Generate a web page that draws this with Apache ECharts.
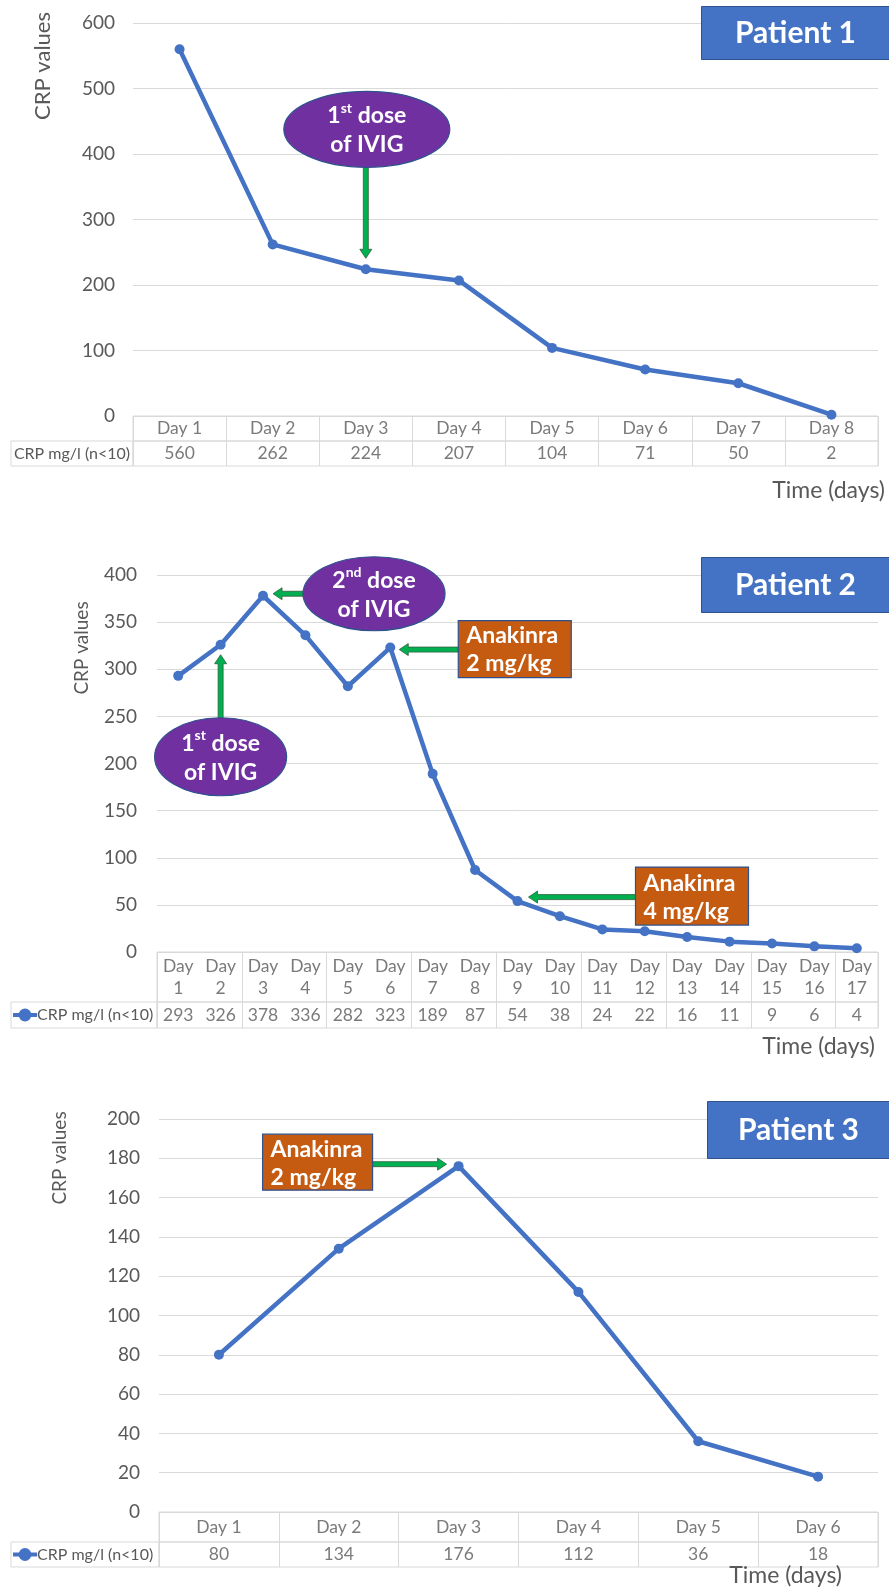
<!DOCTYPE html>
<html>
<head>
<meta charset="utf-8">
<title>CRP values per patient</title>
<script src="https://cdn.jsdelivr.net/npm/echarts@6/dist/echarts.min.js"></script>
<style>
  html, body { margin: 0; padding: 0; background: #fff; }
  #chart { width: 889px; height: 1591px; }
</style>
</head>
<body>
<div id="chart"></div>
<script>
// data
const days1 = ['Day 1', 'Day 2', 'Day 3', 'Day 4', 'Day 5', 'Day 6', 'Day 7', 'Day 8'];
const crp1 = [560, 262, 224, 207, 104, 71, 50, 2];

const days2 = ['Day 1', 'Day 2', 'Day 3', 'Day 4', 'Day 5', 'Day 6', 'Day 7', 'Day 8', 'Day 9',
  'Day 10', 'Day 11', 'Day 12', 'Day 13', 'Day 14', 'Day 15', 'Day 16', 'Day 17'];
const crp2 = [293, 326, 378, 336, 282, 323, 189, 87, 54, 38, 24, 22, 16, 11, 9, 6, 4];

const days3 = ['Day 1', 'Day 2', 'Day 3', 'Day 4', 'Day 5', 'Day 6'];
const crp3 = [80, 134, 176, 112, 36, 18];

const yMax = [600, 400, 200];
const yStep = [100, 50, 20];
const patients = ['Patient 1', 'Patient 2', 'Patient 3'];
const seriesName = 'CRP mg/l (n<10)';

const FONT = 'Lato, "Open Sans", sans-serif';
const GREY = '#595959';
const LINE = '#d9d9d9';
const BLUE = '#4472C4';

const allDays = [days1, days2, days3];
const allCrp = [crp1, crp2, crp3];

// layout of each block (main plot, header row, value row)
const layout = [
  { left: 133, top: 23, height: 393, headH: 25, valH: 25, labelGap: 18, rowW: 122, fs: 17.5, legend: false },
  { left: 157, top: 575, height: 377, headH: 50, valH: 26, labelGap: 20, rowW: 146, fs: 17.5, legend: true },
  { left: 159, top: 1119, height: 393, headH: 30, valH: 25, labelGap: 19, rowW: 148, fs: 17.5, legend: true }
];

const grid = [], xAxis = [], yAxis = [], series = [], legend = [];

layout.forEach((L, p) => {
  const headTop = L.top + L.height;
  const valTop = headTop + L.headH;
  grid.push({ left: L.left, right: 11, top: L.top, height: L.height });
  grid.push({ left: L.left, right: 11, top: headTop, height: L.headH, show: true, borderColor: LINE, borderWidth: 1 });
  grid.push({ left: L.left, right: 11, top: valTop, height: L.valH, show: true, borderColor: LINE, borderWidth: 1 });

  const hidden = { axisLine: { show: false }, axisTick: { show: false }, axisLabel: { show: false } };
  xAxis.push(Object.assign({ type: 'category', gridIndex: 3 * p, data: allDays[p], boundaryGap: true }, hidden));
  xAxis.push(Object.assign({ type: 'category', gridIndex: 3 * p + 1, data: allDays[p], boundaryGap: true,
    splitLine: { show: true, lineStyle: { color: LINE } } }, hidden));
  xAxis.push(Object.assign({ type: 'category', gridIndex: 3 * p + 2, data: allDays[p], boundaryGap: true,
    splitLine: { show: true, lineStyle: { color: LINE } } }, hidden));

  yAxis.push({
    type: 'value', gridIndex: 3 * p, min: 0, max: yMax[p], interval: yStep[p],
    axisLine: { show: false }, axisTick: { show: false },
    axisLabel: { color: GREY, fontSize: 19, fontFamily: FONT, margin: L.labelGap },
    splitLine: { lineStyle: { color: LINE } }
  });
  yAxis.push({ type: 'category', gridIndex: 3 * p + 1, data: [''], show: false });
  yAxis.push({
    type: 'category', gridIndex: 3 * p + 2, data: [seriesName],
    axisLine: { show: false }, axisTick: { show: false }, splitLine: { show: false },
    axisLabel: {
      margin: 0,
      formatter: v => '{h|' + (L.legend ? ' ' : v) + '}',
      rich: { h: { width: L.rowW, height: L.valH, borderColor: LINE, borderWidth: 1, align: 'center',
        color: GREY, fontSize: 16, fontFamily: FONT } }
    }
  });

  series.push({
    name: seriesName, type: 'line', xAxisIndex: 3 * p, yAxisIndex: 3 * p,
    data: allCrp[p], symbol: 'circle', symbolSize: 10,
    lineStyle: { color: BLUE, width: 4.5 }, itemStyle: { color: BLUE }
  });
  const cellLabel = { show: true, position: 'inside', color: GREY, fontSize: L.fs, fontFamily: FONT, lineHeight: 22 };
  series.push({
    name: 'head' + p, type: 'scatter', xAxisIndex: 3 * p + 1, yAxisIndex: 3 * p + 1, silent: true,
    symbolSize: 1, itemStyle: { color: 'rgba(0,0,0,0)' },
    data: allDays[p].map((d, i) => [i, 0]),
    label: Object.assign({}, cellLabel, {
      formatter: o => p === 1 ? allDays[p][o.dataIndex].replace(' ', '\n') : allDays[p][o.dataIndex]
    })
  });
  series.push({
    name: 'val' + p, type: 'scatter', xAxisIndex: 3 * p + 2, yAxisIndex: 3 * p + 2, silent: true,
    symbolSize: 1, itemStyle: { color: 'rgba(0,0,0,0)' },
    data: allCrp[p].map((v, i) => [i, 0]),
    label: Object.assign({}, cellLabel, { formatter: o => String(allCrp[p][o.dataIndex]) })
  });

  if (L.legend) {
    legend.push({
      data: [seriesName], selectedMode: false, left: 11, top: valTop + L.valH / 2 - 8, padding: 0,
      itemWidth: 24, itemHeight: 16, itemGap: 0,
      lineStyle: { width: 4 },
      textStyle: { color: GREY, fontSize: 16, fontFamily: FONT, padding: [0, 0, 0, -5] }
    });
  }
});

// patient tags and axis titles
const title = [
  { text: patients[0], right: -1, top: 6, padding: [12, 34] },
  { text: patients[1], right: -1, top: 557, padding: [13, 34] },
  { text: patients[2], right: -1, top: 1101, padding: [14, 31] }
].map(t => Object.assign(t, {
  backgroundColor: BLUE, borderColor: '#2F528F', borderWidth: 1,
  textStyle: { color: '#fff', fontSize: 30, fontWeight: 'bold', fontFamily: FONT }
})).concat([
  { text: 'Time (days)', right: 4, top: 479 },
  { text: 'Time (days)', right: 14, top: 1035 },
  { text: 'Time (days)', right: 47, top: 1564 }
].map(t => Object.assign(t, { padding: 0, textStyle: { color: GREY, fontSize: 23, fontWeight: 'normal', fontFamily: FONT } })));

const chart = echarts.init(document.getElementById('chart'));
chart.setOption({ animation: false, title, grid, xAxis, yAxis, series, legend });

// annotations, placed relative to the data point they point at
const notes = [
  { p: 0, day: 2, shape: 'ellipse', c: [1, -140], size: [166, 76], text: '1{s|st} dose\nof IVIG', arrow: [0, -102, 0, -11] },
  { p: 1, day: 2, shape: 'ellipse', c: [111, -2], size: [142, 74], text: '2{s|nd} dose\nof IVIG', arrow: [40, -2, 10, -2] },
  { p: 1, day: 1, shape: 'ellipse', c: [0, 112], size: [132, 78], text: '1{s|st} dose\nof IVIG', arrow: [0, 73, 0, 10] },
  { p: 1, day: 5, shape: 'rect', c: [124.5, 1.5], size: [113, 57], text: 'Anakinra\n2 mg/kg', arrow: [68, 2, 9, 2] },
  { p: 1, day: 8, shape: 'rect', c: [174.5, -5], size: [113, 58], text: 'Anakinra\n4 mg/kg', arrow: [118, -4, 11, -4] },
  { p: 2, day: 2, shape: 'rect', c: [-141, -4], size: [110, 56], text: 'Anakinra\n2 mg/kg', arrow: [-86, -2, -12, -2] }
];

function arrowPts(x1, y1, x2, y2) {
  const dx = x2 - x1, dy = y2 - y1, len = Math.hypot(dx, dy);
  const ux = dx / len, uy = dy / len, nx = -uy, ny = ux;
  const sw = 2.5, hw = 6, hl = 9;
  const bx = x2 - ux * hl, by = y2 - uy * hl;
  return [[x1 + nx * sw, y1 + ny * sw], [bx + nx * sw, by + ny * sw], [bx + nx * hw, by + ny * hw], [x2, y2],
    [bx - nx * hw, by - ny * hw], [bx - nx * sw, by - ny * sw], [x1 - nx * sw, y1 - ny * sw]];
}

const graphic = [];
[['CRP values', 43, 66, 22], ['CRP values', 82, 648, 19], ['CRP values', 60, 1158, 19]].forEach(([t, x, y, fs]) => {
  graphic.push({ type: 'text', x, y, rotation: Math.PI / 2, silent: true,
    style: { text: t, fill: GREY, fontSize: fs, fontFamily: FONT, align: 'center', verticalAlign: 'middle' } });
});

notes.forEach(n => {
  const pt = chart.convertToPixel({ gridIndex: 3 * n.p }, [n.day, allCrp[n.p][n.day]]);
  const cx = pt[0] + n.c[0], cy = pt[1] + n.c[1];
  const a = n.arrow;
  graphic.push({ type: 'polygon', silent: true, z: 10,
    shape: { points: arrowPts(pt[0] + a[0], pt[1] + a[1], pt[0] + a[2], pt[1] + a[3]) },
    style: { fill: '#00B050', stroke: '#2E5E3B', lineWidth: 0.8 } });
  if (n.shape === 'ellipse') {
    graphic.push({ type: 'ellipse', silent: true, z: 11,
      shape: { cx, cy, rx: n.size[0] / 2, ry: n.size[1] / 2 },
      style: { fill: '#7030A0', stroke: '#2F528F', lineWidth: 1.2 } });
    graphic.push({ type: 'text', silent: true, z: 12, x: cx, y: cy + 1,
      style: { text: n.text, fill: '#fff', fontSize: 23, fontWeight: 'bold', fontFamily: FONT,
        lineHeight: 29, align: 'center', verticalAlign: 'middle',
        rich: { s: { fontSize: 14, fontWeight: 'bold', fontFamily: FONT, fill: '#fff', verticalAlign: 'top', lineHeight: 29 } } } });
  } else {
    const x0 = cx - n.size[0] / 2, y0 = cy - n.size[1] / 2;
    graphic.push({ type: 'rect', silent: true, z: 11,
      shape: { x: x0, y: y0, width: n.size[0], height: n.size[1] },
      style: { fill: '#C55A11', stroke: '#2F528F', lineWidth: 1.2 } });
    graphic.push({ type: 'text', silent: true, z: 12, x: x0 + 8, y: cy + 1,
      style: { text: n.text, fill: '#fff', fontSize: 23, fontWeight: 'bold', fontFamily: FONT,
        lineHeight: 28, align: 'left', verticalAlign: 'middle' } });
  }
});

chart.setOption({ graphic });
</script>
</body>
</html>
